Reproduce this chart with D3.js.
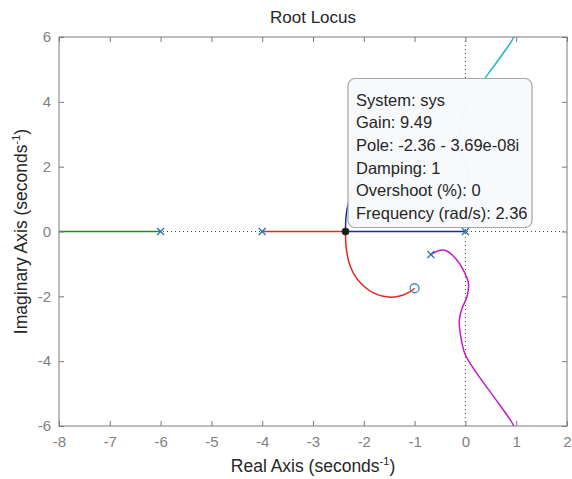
<!DOCTYPE html>
<html>
<head>
<meta charset="utf-8">
<script src="https://cdn.jsdelivr.net/npm/d3@7"></script>
<style>
  html, body { margin: 0; padding: 0; background: #ffffff; }
  svg { display: block; font-family: "Liberation Sans", Arial, Helvetica, sans-serif; }
</style>
</head>
<body>
<svg id="chart" width="572" height="479"></svg>
<script>
// Axis ticks
const xTicks = [-8, -7, -6, -5, -4, -3, -2, -1, 0, 1, 2];
const yTicks = [-6, -4, -2, 0, 2, 4, 6];

// Open-loop poles and zeros
const poleRe = [-6, -4, 0, -0.68, -0.68];
const poleIm = [0, 0, 0, 0.71, -0.71];
const zeroRe = [-1, -1];
const zeroIm = [1.75, -1.75];

// Locus branches: real-axis segments
const greenAxisRe = [-6, -9];
const redAxisRe = [-4, -2.36];
const blueAxisRe = [0, -2.36];

// Locus branches: complex parts (real part, imaginary part)
const redCurveRe = [-2.36, -2.35, -2.30, -2.20, -2.04, -1.84, -1.62, -1.40, -1.21, -1.08, -1.0];
const redCurveIm = [0, -0.45, -0.90, -1.30, -1.63, -1.87, -2.00, -2.02, -1.95, -1.85, -1.75];
const blueCurveRe = [-2.36, -2.35, -2.30, -2.20, -2.04, -1.84, -1.62, -1.40, -1.21, -1.08, -1.0];
const blueCurveIm = [0, 0.45, 0.90, 1.30, 1.63, 1.87, 2.00, 2.02, 1.95, 1.85, 1.75];
const cyanRe = [-0.68, -0.50, -0.37, -0.20, -0.04, 0.06, 0.03, -0.07, -0.12, -0.09, -0.01, 0.16, 0.42, 0.68, 0.93, 1.0];
const cyanIm = [0.71, 0.58, 0.60, 0.82, 1.19, 1.60, 2.02, 2.38, 2.74, 3.25, 3.77, 4.23, 4.80, 5.36, 5.93, 6.2];
const magentaRe = [-0.68, -0.50, -0.37, -0.20, -0.04, 0.06, 0.03, -0.07, -0.12, -0.09, -0.01, 0.16, 0.42, 0.68, 0.93, 1.0];
const magentaIm = [-0.71, -0.58, -0.60, -0.82, -1.19, -1.60, -2.02, -2.38, -2.74, -3.25, -3.77, -4.23, -4.80, -5.36, -5.93, -6.2];

// Selected data tip
const tipRe = -2.36;
const tipIm = 0;
const tipLines = [
  "System: sys",
  "Gain: 9.49",
  "Pole: -2.36 - 3.69e-08i",
  "Damping: 1",
  "Overshoot (%): 0",
  "Frequency (rad/s): 2.36"
];

const colors = { b: "#1a2aa8", g: "#1a8f1a", r: "#ec2520", c: "#18b8c8", m: "#c21ac8" };

const axisSegments = [
  { re: greenAxisRe, color: colors.g },
  { re: redAxisRe, color: colors.r },
  { re: blueAxisRe, color: colors.b }
];
const curves = [
  { re: redCurveRe, im: redCurveIm, color: colors.r },
  { re: blueCurveRe, im: blueCurveIm, color: colors.b },
  { re: cyanRe, im: cyanIm, color: colors.c },
  { re: magentaRe, im: magentaIm, color: colors.m }
];

const margin = { left: 59, top: 37, right: 5, bottom: 53 };
const W = 572, H = 479;
const pw = W - margin.left - margin.right;
const ph = H - margin.top - margin.bottom;

const svg = d3.select("#chart");
const x = d3.scaleLinear().domain([-8, 2]).range([margin.left, margin.left + pw]);
const y = d3.scaleLinear().domain([-6, 6]).range([margin.top + ph, margin.top]);

const axisColor = "#7a7a7a";
const labelColor = "#808080";
const lw = 1.5;

svg.append("defs").append("clipPath").attr("id", "plotClip")
  .append("rect").attr("x", margin.left).attr("y", margin.top).attr("width", pw).attr("height", ph);

const plot = svg.append("g").attr("clip-path", "url(#plotClip)");

// Dotted reference lines through the origin
plot.append("line")
  .attr("x1", x(-8)).attr("x2", x(2)).attr("y1", y(0)).attr("y2", y(0))
  .attr("stroke", "#4a4a4a").attr("stroke-width", 1).attr("stroke-dasharray", "1,3");
plot.append("line")
  .attr("x1", x(0)).attr("x2", x(0)).attr("y1", y(6)).attr("y2", y(-6))
  .attr("stroke", "#4a4a4a").attr("stroke-width", 1).attr("stroke-dasharray", "1,3");

// Branches on the real axis
axisSegments.forEach(s => {
  plot.append("line")
    .attr("x1", x(s.re[0])).attr("x2", x(s.re[1])).attr("y1", y(0)).attr("y2", y(0))
    .attr("stroke", s.color).attr("stroke-width", lw);
});

// Complex branches
const line = d3.line().x(d => x(d[0])).y(d => y(d[1])).curve(d3.curveCatmullRom.alpha(0.5));
curves.forEach(b => {
  plot.append("path")
    .datum(b.re.map((r, i) => [r, b.im[i]]))
    .attr("d", line)
    .attr("fill", "none")
    .attr("stroke", b.color)
    .attr("stroke-width", lw);
});

// Poles (x) and zeros (o)
const ms = 3.5;
poleRe.forEach((r, i) => {
  const px = x(r), py = y(poleIm[i]);
  plot.append("path")
    .attr("d", `M${px - ms},${py - ms}L${px + ms},${py + ms}M${px - ms},${py + ms}L${px + ms},${py - ms}`)
    .attr("stroke", "#3070b8").attr("stroke-width", 1.3).attr("fill", "none");
});
zeroRe.forEach((r, i) => {
  plot.append("circle")
    .attr("cx", x(r)).attr("cy", y(zeroIm[i])).attr("r", 4.5)
    .attr("fill", "none").attr("stroke", "#2f8fbf").attr("stroke-width", 1.3);
});

// Axes box
const x0 = margin.left, x1 = margin.left + pw, y0 = margin.top, y1 = margin.top + ph;
svg.append("rect").attr("x", x0).attr("y", y0).attr("width", pw).attr("height", ph)
  .attr("fill", "none").attr("stroke", axisColor).attr("stroke-width", 1);

const tickLen = 5;
const axB = svg.append("g").attr("transform", `translate(0,${y1})`)
  .call(d3.axisBottom(x).tickValues(xTicks).tickSizeInner(-tickLen).tickSizeOuter(0).tickPadding(10).tickFormat(d3.format("d")));
const axT = svg.append("g").attr("transform", `translate(0,${y0})`)
  .call(d3.axisTop(x).tickValues(xTicks).tickSizeInner(-tickLen).tickSizeOuter(0).tickFormat(""));
const axL = svg.append("g").attr("transform", `translate(${x0},0)`)
  .call(d3.axisLeft(y).tickValues(yTicks).tickSizeInner(-tickLen).tickSizeOuter(0).tickPadding(8).tickFormat(d3.format("d")));
const axR = svg.append("g").attr("transform", `translate(${x1},0)`)
  .call(d3.axisRight(y).tickValues(yTicks).tickSizeInner(-tickLen).tickSizeOuter(0).tickFormat(""));
[axB, axT, axL, axR].forEach(a => {
  a.select(".domain").remove();
  a.selectAll(".tick line").attr("stroke", axisColor);
  a.selectAll(".tick text").attr("fill", labelColor).style("font-size", "15px")
    .style("font-family", "'Liberation Sans', Arial, sans-serif");
});
axB.selectAll(".tick text").text(d => d < 0 ? "-" + Math.abs(d) : d);
axL.selectAll(".tick text").text(d => d < 0 ? "-" + Math.abs(d) : d);

// Title and axis labels
svg.append("text").attr("x", (x0 + x1) / 2).attr("y", 23).attr("text-anchor", "middle")
  .attr("fill", "#262626").style("font-size", "17px").text("Root Locus");

const xl = svg.append("text").attr("x", (x0 + x1) / 2).attr("y", 472).attr("text-anchor", "middle")
  .attr("fill", "#262626").style("font-size", "17.5px");
xl.append("tspan").text("Real Axis (seconds");
xl.append("tspan").attr("dy", -7).style("font-size", "11px").text("-1");
xl.append("tspan").attr("dy", 7).text(")");

const yl = svg.append("text")
  .attr("transform", `translate(27,${(y0 + y1) / 2}) rotate(-90)`)
  .attr("text-anchor", "middle").attr("fill", "#262626").style("font-size", "17.5px");
yl.append("tspan").text("Imaginary Axis (seconds");
yl.append("tspan").attr("dy", -7).style("font-size", "11px").text("-1");
yl.append("tspan").attr("dy", 7).text(")");

// Data tip
const tx = x(tipRe), ty = y(tipIm);
const boxW = 184, boxH = 149;
const bx = tx + 2.5, by = ty - 4 - boxH;
const tip = svg.append("g");
tip.append("rect").attr("x", bx).attr("y", by).attr("width", boxW).attr("height", boxH)
  .attr("rx", 7).attr("ry", 7)
  .attr("fill", "#f8f9fb").attr("fill-opacity", 0.97).attr("stroke", "#a5a5a5").attr("stroke-width", 1.2);
tipLines.forEach((t, i) => {
  tip.append("text").attr("x", bx + 8).attr("y", by + 27 + i * 22.7)
    .attr("fill", "#262626").style("font-size", "16.5px").text(t);
});
svg.append("circle").attr("cx", tx).attr("cy", ty).attr("r", 3.6)
  .attr("fill", "#1a1a1a").attr("stroke", "#3a3a10").attr("stroke-width", 0.8);
</script>
</body>
</html>
